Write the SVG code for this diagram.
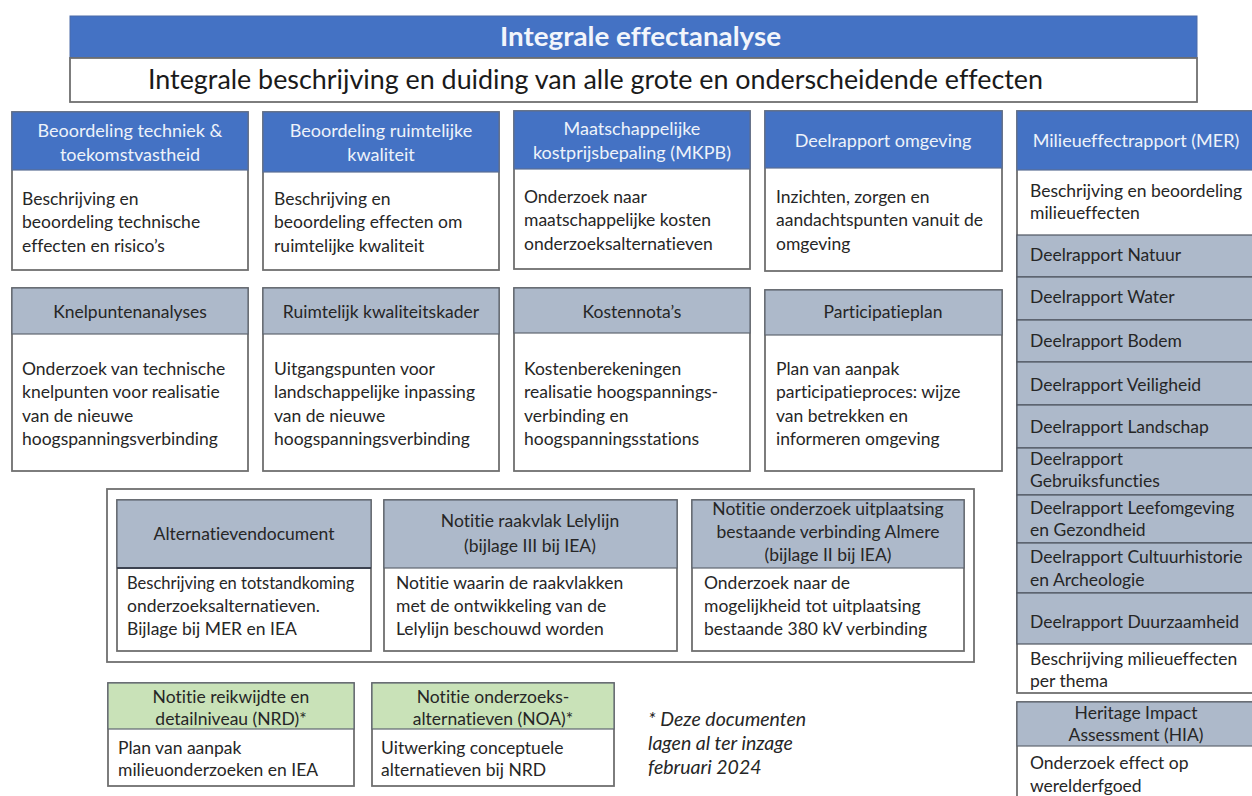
<svg xmlns="http://www.w3.org/2000/svg" width="1252" height="796" viewBox="0 0 1252 796">
  <style>
    text { font-family: Lato, "Noto Sans", sans-serif; font-variant-ligatures: none; }
    .frame { fill: #ffffff; stroke: #6f6f6f; stroke-width: 1.8; }
    .hdBlue { fill: #4472C4; stroke: #5a6f94; stroke-width: 1.2; }
    .hdGrey { fill: #ADB9CA; stroke: #5f6670; stroke-width: 1.2; }
    .hdGreen { fill: #C9E2B8; stroke: #5f6670; stroke-width: 1.2; }
    .rowGrey { fill: #ADB9CA; stroke: #4f5560; stroke-width: 1.2; }
    .tw { fill: #EEF2FA; font-size: 18px; text-anchor: middle; }
    .th { fill: #262626; font-size: 17.5px; text-anchor: middle; }
    .tb { fill: #262626; font-size: 17.5px; }
    .note { fill: #262626; font-size: 19.5px; font-style: italic; }
  </style>

  <!-- Overall title -->
  <g id="title">
    <rect x="70" y="16" width="1127" height="42" fill="#4472C4" stroke="#4a6aa8" stroke-width="1"/>
    <rect x="70" y="58" width="1127" height="44" class="frame"/>
    <text x="640.5" y="46" fill="#F2F5FB" font-size="26" font-weight="bold" text-anchor="middle" textLength="281" lengthAdjust="spacingAndGlyphs">Integrale effectanalyse</text>
    <text x="595.5" y="89" fill="#1a1a1a" font-size="26" text-anchor="middle" textLength="895" lengthAdjust="spacingAndGlyphs">Integrale beschrijving en duiding van alle grote en onderscheidende effecten</text>
  </g>

  <!-- Row 1: assessment reports -->
  <g id="techniek">
    <rect x="12" y="112" width="236" height="158" class="frame"/>
    <rect x="12" y="112" width="236" height="58" class="hdBlue"/>
    <text class="tw" x="130" y="137">Beoordeling techniek &amp;</text>
    <text class="tw" x="130" y="161">toekomstvastheid</text>
    <text class="tb" x="22" y="205">Beschrijving en</text>
    <text class="tb" x="22" y="228">beoordeling technische</text>
    <text class="tb" x="22" y="252">effecten en risico’s</text>
  </g>
  <g id="ruimtelijk">
    <rect x="263" y="112" width="236" height="158" class="frame"/>
    <rect x="263" y="112" width="236" height="60" class="hdBlue"/>
    <text class="tw" x="381" y="137">Beoordeling ruimtelijke</text>
    <text class="tw" x="381" y="161">kwaliteit</text>
    <text class="tb" x="274" y="205">Beschrijving en</text>
    <text class="tb" x="274" y="228">beoordeling effecten om</text>
    <text class="tb" x="274" y="252">ruimtelijke kwaliteit</text>
  </g>
  <g id="mkpb">
    <rect x="514" y="111" width="236" height="158" class="frame"/>
    <rect x="514" y="111" width="236" height="58" class="hdBlue"/>
    <text class="tw" x="632" y="135">Maatschappelijke</text>
    <text class="tw" x="632" y="159">kostprijsbepaling (MKPB)</text>
    <text class="tb" x="524" y="203">Onderzoek naar</text>
    <text class="tb" x="524" y="226">maatschappelijke kosten</text>
    <text class="tb" x="524" y="250">onderzoeksalternatieven</text>
  </g>
  <g id="omgeving">
    <rect x="765" y="111" width="237" height="160" class="frame"/>
    <rect x="765" y="111" width="237" height="57" class="hdBlue"/>
    <text class="tw" x="883" y="147">Deelrapport omgeving</text>
    <text class="tb" x="776" y="203">Inzichten, zorgen en</text>
    <text class="tb" x="776" y="226">aandachtspunten vanuit de</text>
    <text class="tb" x="776" y="250">omgeving</text>
  </g>

  <!-- Environmental impact report column -->
  <g id="mer">
    <rect x="1017" y="111" width="245" height="582" class="frame"/>
    <rect x="1017" y="111" width="245" height="59" class="hdBlue"/>
    <text class="tw" x="1136" y="147">Milieueffectrapport (MER)</text>
    <text class="tb" x="1030" y="197">Beschrijving en beoordeling</text>
    <text class="tb" x="1030" y="219">milieueffecten</text>
    <rect x="1017" y="235" width="245" height="42" class="rowGrey"/>
    <text class="tb" x="1030" y="261">Deelrapport Natuur</text>
    <rect x="1017" y="277" width="245" height="43" class="rowGrey"/>
    <text class="tb" x="1030" y="303">Deelrapport Water</text>
    <rect x="1017" y="320" width="245" height="42" class="rowGrey"/>
    <text class="tb" x="1030" y="347">Deelrapport Bodem</text>
    <rect x="1017" y="362" width="245" height="43" class="rowGrey"/>
    <text class="tb" x="1030" y="391">Deelrapport Veiligheid</text>
    <rect x="1017" y="405" width="245" height="43" class="rowGrey"/>
    <text class="tb" x="1030" y="433">Deelrapport Landschap</text>
    <rect x="1017" y="448" width="245" height="47" class="rowGrey"/>
    <text class="tb" x="1030" y="465">Deelrapport</text>
    <text class="tb" x="1030" y="487">Gebruiksfuncties</text>
    <rect x="1017" y="495" width="245" height="48" class="rowGrey"/>
    <text class="tb" x="1030" y="514">Deelrapport Leefomgeving</text>
    <text class="tb" x="1030" y="536">en Gezondheid</text>
    <rect x="1017" y="543" width="245" height="50" class="rowGrey"/>
    <text class="tb" x="1030" y="563">Deelrapport Cultuurhistorie</text>
    <text class="tb" x="1030" y="586">en Archeologie</text>
    <rect x="1017" y="593" width="245" height="51" class="rowGrey"/>
    <text class="tb" x="1030" y="628">Deelrapport Duurzaamheid</text>
    <text class="tb" x="1030" y="665">Beschrijving milieueffecten</text>
    <text class="tb" x="1030" y="687">per thema</text>
  </g>

  <g id="hia">
    <rect x="1017" y="702" width="245" height="100" class="frame"/>
    <rect x="1017" y="702" width="245" height="44" class="hdGrey"/>
    <text class="th" x="1136" y="719">Heritage Impact</text>
    <text class="th" x="1136" y="741">Assessment (HIA)</text>
    <text class="tb" x="1030" y="769">Onderzoek effect op</text>
    <text class="tb" x="1030" y="792">werelderfgoed</text>
  </g>

  <!-- Row 2: underlying studies -->
  <g id="knelpunten">
    <rect x="12" y="288" width="236" height="183" class="frame"/>
    <rect x="12" y="288" width="236" height="46" class="hdGrey"/>
    <text class="th" x="130" y="318">Knelpuntenanalyses</text>
    <text class="tb" x="22" y="375">Onderzoek van technische</text>
    <text class="tb" x="22" y="398">knelpunten voor realisatie</text>
    <text class="tb" x="22" y="422">van de nieuwe</text>
    <text class="tb" x="22" y="445">hoogspanningsverbinding</text>
  </g>
  <g id="kwaliteitskader">
    <rect x="263" y="288" width="236" height="183" class="frame"/>
    <rect x="263" y="288" width="236" height="46" class="hdGrey"/>
    <text class="th" x="381" y="318">Ruimtelijk kwaliteitskader</text>
    <text class="tb" x="274" y="375">Uitgangspunten voor</text>
    <text class="tb" x="274" y="398">landschappelijke inpassing</text>
    <text class="tb" x="274" y="422">van de nieuwe</text>
    <text class="tb" x="274" y="445">hoogspanningsverbinding</text>
  </g>
  <g id="kostennotas">
    <rect x="514" y="288" width="236" height="183" class="frame"/>
    <rect x="514" y="288" width="236" height="45" class="hdGrey"/>
    <text class="th" x="632" y="318">Kostennota’s</text>
    <text class="tb" x="524" y="375">Kostenberekeningen</text>
    <text class="tb" x="524" y="398">realisatie hoogspannings-</text>
    <text class="tb" x="524" y="422">verbinding en</text>
    <text class="tb" x="524" y="445">hoogspanningsstations</text>
  </g>
  <g id="participatieplan">
    <rect x="765" y="290" width="237" height="181" class="frame"/>
    <rect x="765" y="290" width="237" height="45" class="hdGrey"/>
    <text class="th" x="883" y="318">Participatieplan</text>
    <text class="tb" x="776" y="375">Plan van aanpak</text>
    <text class="tb" x="776" y="398">participatieproces: wijze</text>
    <text class="tb" x="776" y="422">van betrekken  en</text>
    <text class="tb" x="776" y="445">informeren  omgeving</text>
  </g>

  <!-- Appendices container -->
  <g id="bijlagen">
    <rect x="107" y="489" width="867" height="173" class="frame"/>
  </g>
  <g id="alternatievendocument">
    <rect x="117" y="500" width="254" height="151" class="frame"/>
    <rect x="117" y="500" width="254" height="68" class="hdGrey"/>
    <line x1="117" y1="568" x2="371" y2="568" stroke="#3c4250" stroke-width="2"/>
    <text class="th" x="244" y="540">Alternatievendocument</text>
    <text class="tb" x="127" y="589" style="font-size:16.5px">Beschrijving en totstandkoming</text>
    <text class="tb" x="127" y="612">onderzoeksalternatieven.</text>
    <text class="tb" x="127" y="635">Bijlage bij MER en IEA</text>
  </g>
  <g id="lelylijn">
    <rect x="384" y="500" width="293" height="151" class="frame"/>
    <rect x="384" y="500" width="293" height="68" class="hdGrey"/>
    <text class="th" x="530" y="527">Notitie raakvlak Lelylijn</text>
    <text class="th" x="530" y="552">(bijlage III bij IEA)</text>
    <text class="tb" x="396" y="589">Notitie waarin de raakvlakken</text>
    <text class="tb" x="396" y="612">met de ontwikkeling van de</text>
    <text class="tb" x="396" y="635">Lelylijn beschouwd worden</text>
  </g>
  <g id="almere">
    <rect x="692" y="500" width="272" height="151" class="frame"/>
    <rect x="692" y="500" width="272" height="68" class="hdGrey"/>
    <text class="th" x="828" y="515">Notitie onderzoek  uitplaatsing</text>
    <text class="th" x="828" y="538">bestaande verbinding  Almere</text>
    <text class="th" x="828" y="561">(bijlage II bij IEA)</text>
    <text class="tb" x="704" y="589">Onderzoek naar de</text>
    <text class="tb" x="704" y="612">mogelijkheid tot uitplaatsing</text>
    <text class="tb" x="704" y="635">bestaande 380 kV verbinding</text>
  </g>

  <!-- Earlier published documents -->
  <g id="nrd">
    <rect x="108" y="683" width="246" height="103" class="frame"/>
    <rect x="108" y="683" width="246" height="46" class="hdGreen"/>
    <text class="th" x="231" y="703">Notitie reikwijdte en</text>
    <text class="th" x="231" y="725">detailniveau (NRD)*</text>
    <text class="tb" x="118" y="754">Plan van aanpak</text>
    <text class="tb" x="118" y="776">milieuonderzoeken  en IEA</text>
  </g>
  <g id="noa">
    <rect x="372" y="683" width="242" height="103" class="frame"/>
    <rect x="372" y="683" width="242" height="46" class="hdGreen"/>
    <text class="th" x="493" y="703">Notitie onderzoeks-</text>
    <text class="th" x="493" y="725">alternatieven (NOA)*</text>
    <text class="tb" x="381" y="754">Uitwerking conceptuele</text>
    <text class="tb" x="381" y="776">alternatieven bij NRD</text>
  </g>
  <g id="voetnoot">
    <text class="note" x="648" y="726">*  Deze documenten</text>
    <text class="note" x="648" y="750">lagen al ter inzage</text>
    <text class="note" x="648" y="774">februari 2024</text>
  </g>

  <!-- No connectors in this overview -->
  <g id="connectors"/>
</svg>
